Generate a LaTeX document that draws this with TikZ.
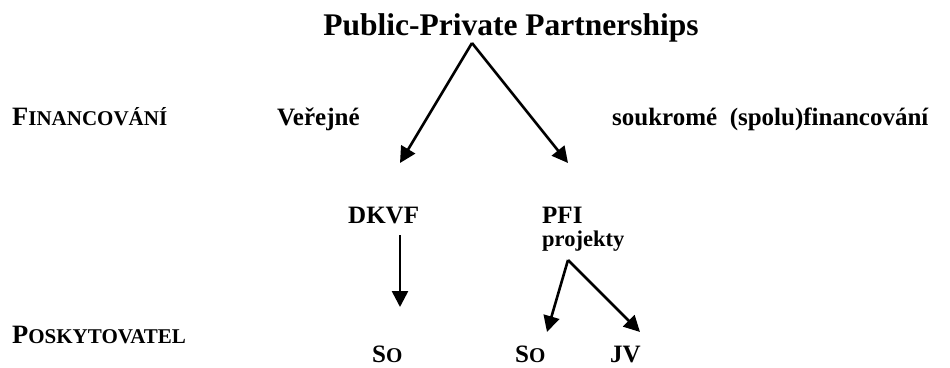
\documentclass[tikz,border=0pt]{standalone}
\usepackage{fontspec}
\setmainfont{Liberation Serif}
\usetikzlibrary{arrows.meta}
\newcommand\fakesc[2]{#1{\fontsize{21}{25}\selectfont #2}}
\tikzset{
  lbl/.style={inner sep=0pt, anchor=base west, font=\bfseries\fontsize{25}{30}\selectfont},
  side/.style={lbl, font=\bfseries\fontsize{26.5}{30}\selectfont},
  arr/.style={line width=2.6pt, -{Triangle[length=16pt,width=16pt]}}
}
\begin{document}
\begin{tikzpicture}[x=1pt,y=-1pt]
	\useasboundingbox (0,0) rectangle (950,367);
	\node [inner sep=0pt, anchor=base, font=\bfseries\fontsize{31.5}{36}\selectfont] (ppp) at (511,35) {Public-Private Partnerships};
	\node [side] (fin) at (12,125) {\fakesc{F}{INANCOVÁNÍ}};
	\node [lbl] (ver) at (277,125) {Veřejné};
	\node [lbl] (souk) at (612,125) {soukromé\ \ (spolu)financování};
	\node [lbl] (dkvf) at (348,223) {DKVF};
	\node [lbl] (pfi) at (542,223) {PFI};
	\node [lbl, font=\bfseries\fontsize{22.5}{26}\selectfont] (proj) at (542,246) {projekty};
	\node [side] (posk) at (12,343) {\fakesc{P}{OSKYTOVATEL}};
	\node [lbl] (so1) at (372,362) {\fakesc{S}{O}};
	\node [lbl] (so2) at (515,362) {\fakesc{S}{O}};
	\node [lbl] (jv) at (610,362) {JV};
	\coordinate (top) at (472,43);
	\coordinate (l) at (400,163);
	\coordinate (r) at (568,163);
	\coordinate (d1) at (400,235);
	\coordinate (d2) at (400,307);
	\coordinate (p0) at (568,260);
	\coordinate (pl) at (547,332);
	\coordinate (pr) at (640,332);
	\draw [arr] (top) -- (l);
	\draw [arr] (top) -- (r);
	\draw [arr] (d1) -- (d2);
	\draw [arr] (p0) -- (pl);
	\draw [arr] (p0) -- (pr);
\end{tikzpicture}
\end{document}
